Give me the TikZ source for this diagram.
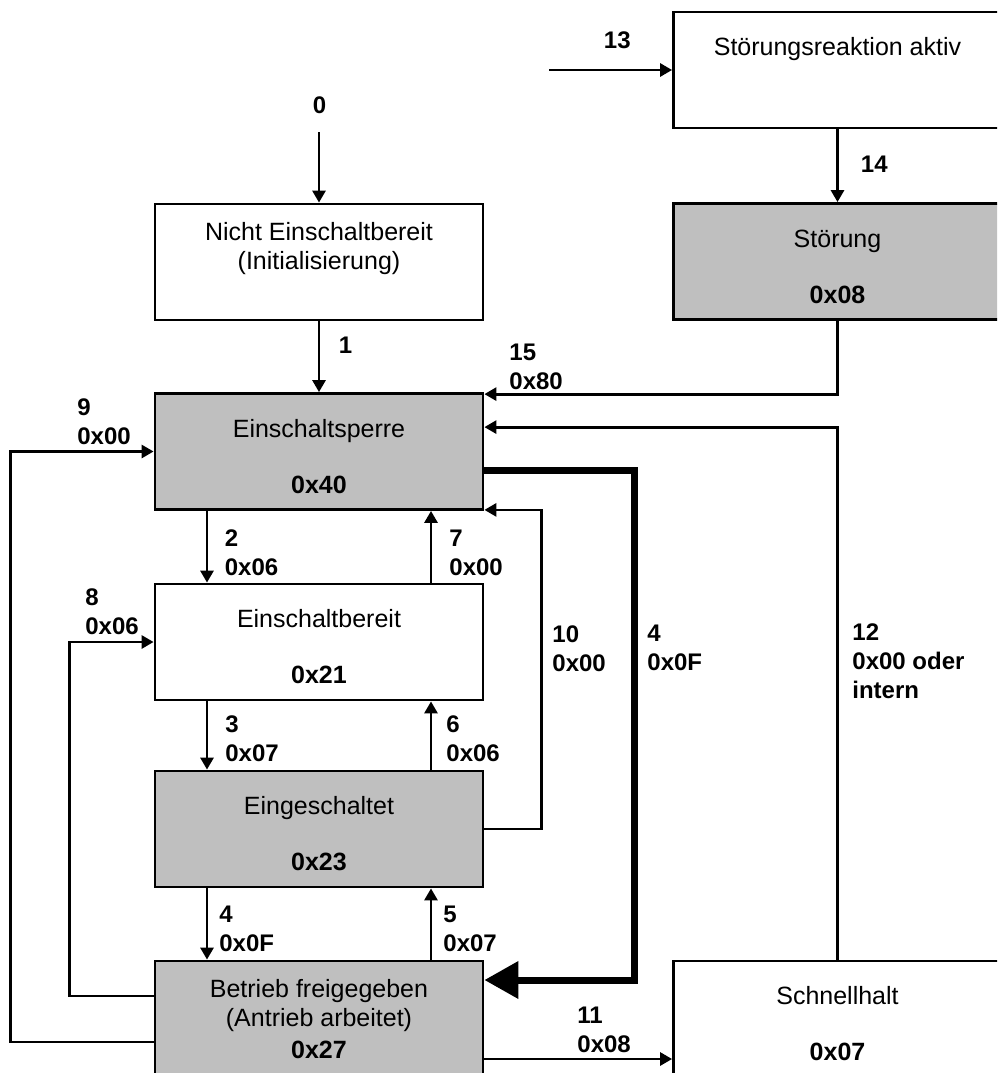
\documentclass[tikz,border=0pt]{standalone}
\usepackage{fontspec}
\setmainfont{Liberation Sans}
\usetikzlibrary{arrows.meta}
\begin{document}
\begin{tikzpicture}[x=1pt,y=-1pt,line width=2.8pt,>={Triangle[length=12pt,width=13pt]}]
	\clip(0,0)rectangle(997,1073);
	\tikzset{zustand/.style={draw,minimum width=328pt,minimum height=116pt,inner sep=0pt,align=center,font=\fontsize{25}{29}\selectfont},
		grau/.style={zustand,fill=gray!50},
		weiss/.style={zustand,fill=white},
		lbl/.style={font=\fontsize{24}{29}\selectfont\bfseries,align=left,anchor=west,inner sep=0pt}}
	\def\kopf{\rule{0pt}{28pt}}
	%%%Zustände
	\node[weiss](reaktion)at(837.5,70){\kopf Störungsreaktion aktiv\\[27pt]\phantom{0}};
	\node[grau](stoerung)at(837.5,261.5){\kopf Störung\\[27pt]\textbf{0x08}};
	\node[weiss](nicht)at(319,262){Nicht Einschaltbereit\\(Initialisierung)\\[3pt]\phantom{0}};
	\node[grau](sperre)at(319,451.5){\kopf Einschaltsperre\\[27pt]\textbf{0x40}};
	\node[weiss](bereit)at(319,642){\kopf Einschaltbereit\\[27pt]\textbf{0x21}};
	\node[grau](ein)at(319,829){\kopf Eingeschaltet\\[27pt]\textbf{0x23}};
	\node[grau](betrieb)at(319,1019){Betrieb freigegeben\\(Antrieb arbeitet)\\[3pt]\textbf{0x27}};
	\node[weiss](schnell)at(837.5,1019){\kopf Schnellhalt\\[27pt]\textbf{0x07}};
	%%%Übergänge
	\coordinate(s0)at(319,132);
	\coordinate(s13)at(549,70);
	\draw[->](s0)--(nicht);
	\draw[->](nicht)--(sperre);
	\draw[->](s13)--(reaktion);
	\draw[->](reaktion)--(stoerung);
	\draw[->](stoerung.south)|-([yshift=-2pt]sperre.north east);
	\draw[->](schnell.north)|-([yshift=-35pt]sperre.north east);
	\draw[->]([xshift=-112pt]sperre.south)--([xshift=-112pt]bereit.north);
	\draw[->]([xshift=112pt]bereit.north)--([xshift=112pt]sperre.south);
	\draw[->]([xshift=-112pt]bereit.south)--([xshift=-112pt]ein.north);
	\draw[->]([xshift=112pt]ein.north)--([xshift=112pt]bereit.south);
	\draw[->]([xshift=-112pt]ein.south)--([xshift=-112pt]betrieb.north);
	\draw[->]([xshift=112pt]betrieb.north)--([xshift=112pt]ein.south);
	\draw[->](ein.east)--++(57,0)|-([yshift=1pt]sperre.south east);
	\draw[->]([yshift=23pt]betrieb.west)--++(-84,0)|-(bereit.west);
	\draw[->]([yshift=-23pt]betrieb.west)--++(-143,0)|-(sperre.west);
	\draw[->]([yshift=-40pt]betrieb.east)--([yshift=-40pt]schnell.west);
	\draw[line width=7pt,-{Triangle[length=34pt,width=36pt]}]([yshift=-78pt]sperre.north east)--++(150,0)|-([yshift=39pt]betrieb.east);
	%%%Beschriftung
	\foreach \n/\x/\y/\t in {l0/311.5/105/0,l1/337.5/345/1,l13/602.5/40/13,l14/859.5/164/14,
		l15/508/367/{15\\0x80},l9/76/421.5/{9\\0x00},l2/223.5/552.5/{2\\0x06},l7/448/552.5/{7\\0x00},
		l8/84/612/{8\\0x06},l10/551/649/{10\\0x00},l4a/646/647.5/{4\\0x0F},l12/851/661.5/{12\\0x00 oder\\intern},
		l3/224/739/{3\\0x07},l6/445/739/{6\\0x06},l4/218/929/{4\\0x0F},l5/442/929/{5\\0x07},l11/576/1029.5/{11\\0x08}}
	\node[lbl](\n)at(\x,\y){\t};
\end{tikzpicture}
\end{document}
